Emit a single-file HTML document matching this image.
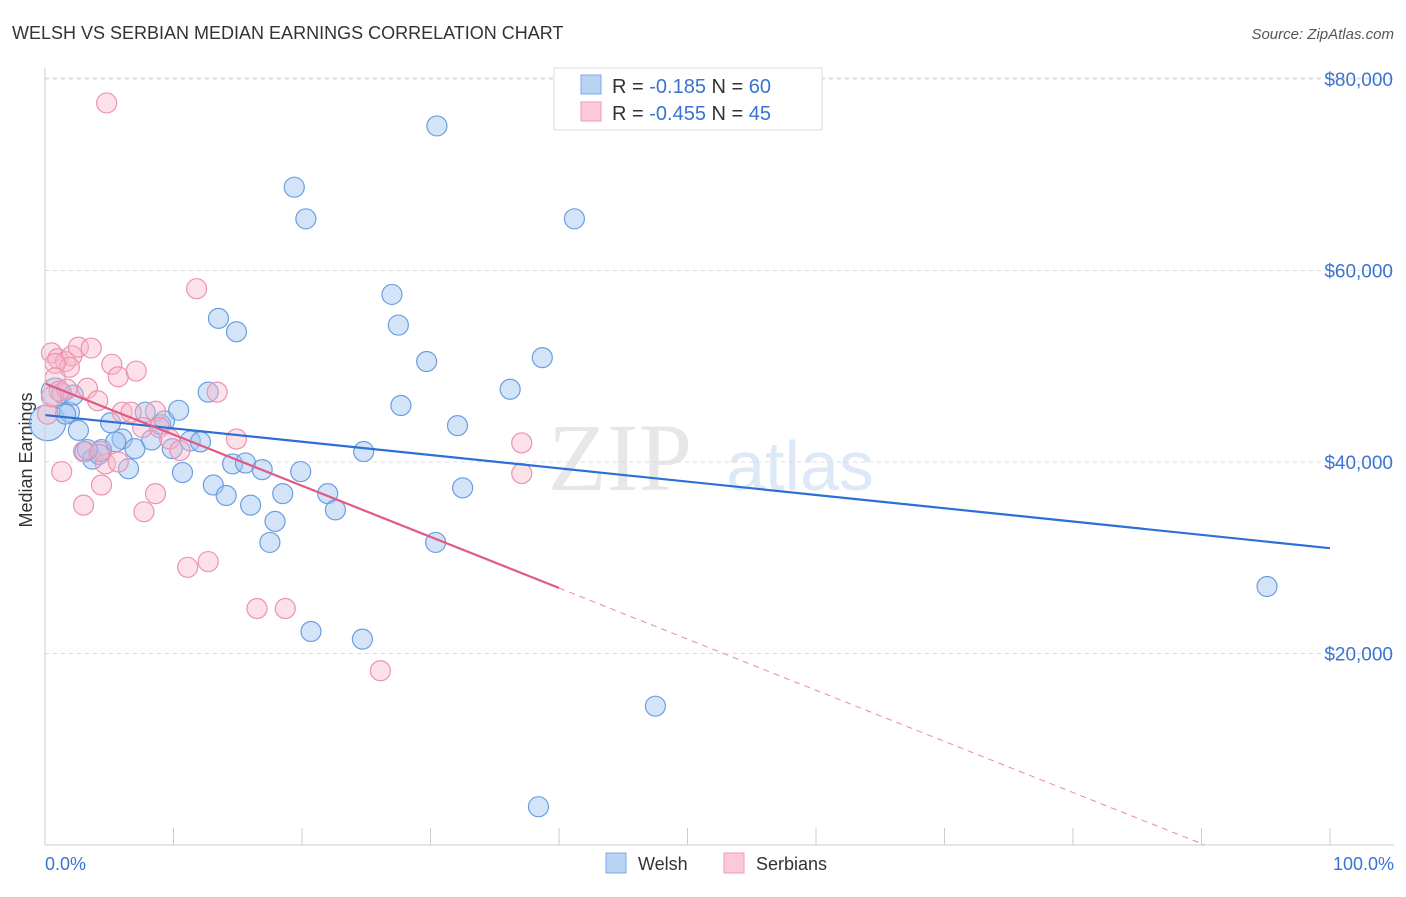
<!DOCTYPE html>
<html><head><meta charset="utf-8"><style>
body{margin:0;background:#fff;font-family:"Liberation Sans",sans-serif}
</style></head><body>
<svg id="c" width="1406" height="892" xmlns="http://www.w3.org/2000/svg">
<text x="12" y="39" font-size="18" fill="#333">WELSH VS SERBIAN MEDIAN EARNINGS CORRELATION CHART</text>
<text x="1394" y="39" font-size="15" fill="#555" font-style="italic" text-anchor="end">Source: ZipAtlas.com</text>
<text x="32" y="460" font-size="18" fill="#333" transform="rotate(-90 32 460)" text-anchor="middle">Median Earnings</text>
<text x="620" y="490" font-size="96" fill="#ddd" font-family="Liberation Serif" text-anchor="middle" opacity="0.7">ZIP</text>
<text x="800" y="490" font-size="70" fill="#cfe0f3" text-anchor="middle" opacity="0.7">atlas</text>
<g id="grid"></g><g id="marks"></g><g id="lines"></g>
<line x1="45" y1="68" x2="45" y2="845" stroke="#ccc"/>
<line x1="45" y1="845" x2="1394" y2="845" stroke="#ccc"/>
<text x="45" y="870" font-size="18" fill="#3a73d1">0.0%</text>
<text x="1394" y="870" font-size="18" fill="#3a73d1" text-anchor="end">100.0%</text>
<g>
<rect x="554" y="68" width="268" height="62" fill="#fff" stroke="#ddd"/>
<rect x="581" y="75" width="20" height="19" fill="#b9d3f5" stroke="#7fa8e0"/>
<rect x="581" y="102" width="20" height="19" fill="#fcc9d8" stroke="#ef9ab5"/>
<text x="612" y="93" font-size="20" fill="#333">R =  <tspan fill="#3a73d1">-0.185</tspan>    N = <tspan fill="#3a73d1">60</tspan></text>
<text x="612" y="120" font-size="20" fill="#333">R = <tspan fill="#3a73d1">-0.455</tspan>    N = <tspan fill="#3a73d1">45</tspan></text>
</g>
<g>
<rect x="606" y="853" width="20" height="20" fill="#b9d3f5" stroke="#7fa8e0"/>
<text x="638" y="870" font-size="18" fill="#333">Welsh</text>
<rect x="724" y="853" width="20" height="20" fill="#fcc9d8" stroke="#ef9ab5"/>
<text x="756" y="870" font-size="18" fill="#333">Serbians</text>
</g>
</svg>
<script>
const yTicks=[20000,40000,60000,80000];
const yTickLabels=["$20,000","$40,000","$60,000","$80,000"];
const xTicks=[0,10,20,30,40,50,60,70,80,90,100];
const welshX=[30.5,19.4,20.3,41.2,27,13.5,14.9,27.5,29.7,38.7,36.2,27.7,32.1,24.8,32.5,30.4,95.1,20.7,24.7,47.5,38.4,0.2,0.8,1.3,1.9,1.6,2.6,3.1,3.7,4.4,5.1,6,6.5,7,7.8,8.3,9,9.3,9.9,10.4,10.7,11.3,12.1,12.7,13.1,14.1,14.6,15.6,16,16.9,17.5,17.9,18.5,19.9,22,22.6,5.5,4.2,3.3,2.2];
const welshY=[75100,68700,65400,65400,57500,55000,53600,54300,50500,50900,47600,45900,43800,41100,37300,31600,27000,22300,21500,14500,4000,44100,47300,47200,45200,45000,43300,41100,40300,41300,44100,42400,39300,41400,45200,42300,43900,44300,41400,45400,38900,42200,42100,47300,37600,36500,39800,39900,35500,39200,31600,33800,36700,39000,36700,35000,42100,40800,41300,47000];
const welshR=[10,10,10,10,10,10,10,10,10,10,10,10,10,10,10,10,10,10,10,10,10,18,14,10,10,10,10,10,10,10,10,10,10,10,10,10,10,10,10,10,10,10,10,10,10,10,10,10,10,10,10,10,10,10,10,10,10,10,10,10];
const serbX=[4.8,11.8,0.5,1,1.6,2.1,2.6,3.6,1.9,0.8,5.2,5.7,7.1,3.3,4.1,0.8,1.1,1.7,6,6.7,8.6,7.6,8.9,9.7,10.5,13.4,14.9,3,4.7,5.7,4.4,3,8.6,7.7,11.1,12.7,16.5,18.7,26.1,37.1,37.1,4.3,0.2,1.3,0.5];
const serbY=[77500,58100,51400,50800,50500,51100,52000,51900,49900,50300,50200,48900,49500,47700,46400,48800,47400,47600,45200,45200,45300,43600,43600,42400,41200,47300,42400,41100,39800,40000,37600,35500,36700,34800,29000,29600,24700,24700,18200,42000,38800,41100,45000,39000,46800];
const blueLine=[44900,31000];
const pinkStart=48200, pinkSlope=-534, pinkSolidEnd=40;
const X=v=>45+v*12.85, Y=v=>845-v*191.5/20000;
const NS="http://www.w3.org/2000/svg";
function mk(t,a,p){const e=document.createElementNS(NS,t);for(const k in a)e.setAttribute(k,a[k]);p.appendChild(e);return e;}
const grid=document.getElementById('grid'),marks=document.getElementById('marks'),lines=document.getElementById('lines'),svg=document.getElementById('c');
yTicks.forEach((t,i)=>{
 const l=mk('line',{x1:45,x2:1394,y1:Y(t),y2:Y(t),stroke:'#ddd','stroke-dasharray':'4,4'},grid);
 
 
 const tx=mk('text',{x:1393,y:Y(t)+7,'font-size':19,fill:'#3a73d1','text-anchor':'end'},svg);
 tx.textContent=yTickLabels[i];
 
 
});
mk('line',{x1:45,x2:1394,y1:Y(80000)-1,y2:Y(80000)-1,stroke:'#ddd','stroke-dasharray':'4,4'},grid);
xTicks.forEach(t=>{
 const l=mk('line',{x1:X(t),x2:X(t),y1:828,y2:845,stroke:'#ccc'},grid);
 
 
});
welshX.forEach((x,i)=>{
 const c=mk('circle',{cx:X(x),cy:Y(welshY[i]),r:welshR[i],fill:'rgba(160,195,240,0.45)',stroke:'#6b9ee0','stroke-width':1.2},marks);
 
 
});
serbX.forEach((x,i)=>{
 const c=mk('circle',{cx:X(x),cy:Y(serbY[i]),r:10,fill:'rgba(250,180,200,0.4)',stroke:'#eb93b0','stroke-width':1.2},marks);
 
 
});
const bl=mk('line',{x1:X(0),y1:Y(blueLine[0]),x2:X(100),y2:Y(blueLine[1]),stroke:'#2c6fd6','stroke-width':2.2},lines);


const pl=mk('line',{x1:X(0),y1:Y(pinkStart),x2:X(pinkSolidEnd),y2:Y(pinkStart+pinkSlope*pinkSolidEnd),stroke:'#e05a86','stroke-width':2.2},lines);


const xe=-pinkStart/pinkSlope;
const pd=mk('line',{x1:X(pinkSolidEnd),y1:Y(pinkStart+pinkSlope*pinkSolidEnd),x2:X(xe),y2:Y(0),stroke:'#e88aa8','stroke-width':1,'stroke-dasharray':'6,5'},lines);


</script>
</body></html>
